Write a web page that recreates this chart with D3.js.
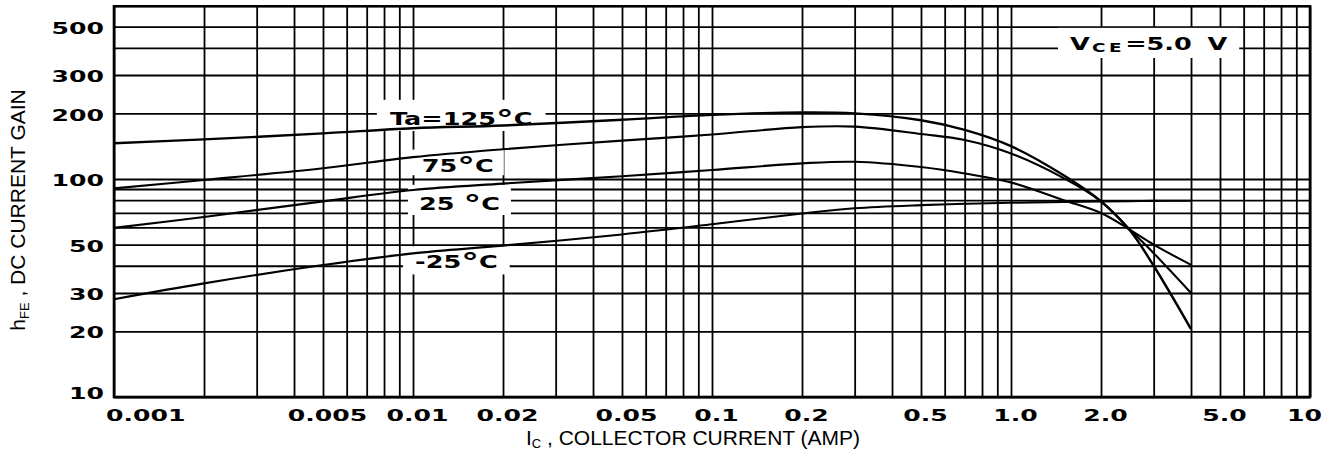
<!DOCTYPE html>
<html>
<head>
<meta charset="utf-8">
<script src="https://cdn.jsdelivr.net/npm/d3@7"></script>
<style>
  body { margin: 0; background: #fff; }
  svg { display: block; }
</style>
</head>
<body>
<svg id="chart" width="1324" height="452"></svg>
<script>
// collector current (A) where the curves were read
var current = [0.001, 0.002, 0.005, 0.01, 0.02, 0.05, 0.1, 0.2, 0.3, 0.5, 0.7, 1.0, 1.5, 2.0, 2.5, 3.0, 4.0];

// hFE, one array per temperature
var gain125 = [146, 152, 162, 171, 176, 187, 197, 202, 200, 186, 168, 141.5, 104, 79, 58, 40, 20.5];
var gain75 = [90.6, 99, 112, 126, 137, 150, 160, 173, 174, 161, 151, 131, 101, 79, 58.5, 45.7, 30];
var gain25 = [59.7, 67, 79, 89, 95.3, 103, 110, 118, 120, 113.5, 106, 96.5, 80, 69.8, 58.5, 50, 40.4];
var gainM25 = [28.1, 33.2, 40.3, 45.6, 49.5, 55.7, 62, 69.5, 73.4, 75.9, 77, 77.8, 78.5, 79, 79.2, 79.4, 79.5];

var curveNames = ['Ta=125°C', '75°C', '25 °C', '-25°C'];
// where each curve name starts (current) and sits (gain at its baseline)
var nameAtCurrent = [0.00837, 0.0107, 0.01047, 0.01016];
var nameAtGain = [177, 108, 72.1, 38.9];

// grid and tick values
var gridX = [0.001, 0.002, 0.003, 0.004, 0.005, 0.006, 0.007, 0.008, 0.009,
             0.01, 0.02, 0.03, 0.04, 0.05, 0.06, 0.07, 0.08, 0.09,
             0.1, 0.2, 0.3, 0.4, 0.5, 0.6, 0.7, 0.8, 0.9,
             1, 2, 3, 4, 5, 6, 7, 8, 9, 10];
var gridY = [10, 20, 30, 40, 50, 60, 70, 80, 90, 100, 200, 300, 400, 500];
var xTickValues = [0.001, 0.005, 0.01, 0.02, 0.05, 0.1, 0.2, 0.5, 1, 2, 5, 10];
var xTickLabels = ['0.001', '0.005', '0.01', '0.02', '0.05', '0.1', '0.2', '0.5', '1.0', '2.0', '5.0', '10'];
var yTickValues = [500, 300, 200, 100, 50, 30, 20, 10];
var yTickLabels = ['500', '300', '200', '100', '50', '30', '20', '10'];

var svg = d3.select('#chart');

var plot = { left: 114, right: 1310, top: 6.3, bottom: 397 };

var x = d3.scaleLog().domain([0.001, 10]).range([plot.left, plot.right]);
var y = d3.scaleLog().domain([10, 620]).range([plot.bottom, plot.top]);

var boldFont = '"DejaVu Sans", sans-serif';
var plainFont = '"Liberation Sans", Arial, sans-serif';
var stretch = 1.62;
var labelStretch = 1.42;

// grid lines through the axis generators
svg.append('g')
    .attr('class', 'grid-x')
    .attr('transform', 'translate(0,' + plot.bottom + ')')
    .call(d3.axisBottom(x).tickValues(gridX).tickSize(-(plot.bottom - plot.top)).tickFormat(''));
svg.append('g')
    .attr('class', 'grid-y')
    .attr('transform', 'translate(' + plot.left + ',0)')
    .call(d3.axisLeft(y).tickValues(gridY).tickSize(-(plot.right - plot.left)).tickFormat(''));
svg.selectAll('.grid-x .domain, .grid-y .domain').remove();
svg.selectAll('.grid-x line, .grid-y line')
    .attr('stroke', '#000')
    .attr('stroke-width', 1.8);

// frame
svg.append('rect')
    .attr('x', plot.left)
    .attr('y', plot.top)
    .attr('width', plot.right - plot.left)
    .attr('height', plot.bottom - plot.top)
    .attr('fill', 'none')
    .attr('stroke', '#000')
    .attr('stroke-width', 2.6);

// label boxes go under the curves, text goes on top
var boxLayer = svg.append('g');
var curveLayer = svg.append('g');
var textLayer = svg.append('g');

// curves
var series = [gain125, gain75, gain25, gainM25];
var line = d3.line()
    .x(function(d) { return x(d[0]); })
    .y(function(d) { return y(d[1]); })
    .curve(d3.curveCatmullRom.alpha(0.5));

curveLayer.selectAll('path')
    .data(series)
    .enter()
    .append('path')
    .attr('d', function(s) { return line(current.map(function(c, i) { return [c, s[i]]; })); })
    .attr('fill', 'none')
    .attr('stroke', '#000')
    .attr('stroke-width', function(s, i) { return i == 0 ? 2.4 : 2.1; });

// stretched bold label with a white box behind it
function boxedLabel(px, py, parts, size, padX, padTop, padBottom) {
    var g = textLayer.append('g')
        .attr('transform', 'translate(' + px + ',' + py + ') scale(' + labelStretch + ',1)');
    var t = g.append('text')
        .attr('font-family', boldFont)
        .attr('font-weight', 'bold')
        .attr('font-size', size);
    parts.forEach(function(p) {
        var ts = t.append('tspan').text(p.text);
        if (p.size) ts.attr('font-size', p.size);
        if (p.dy) ts.attr('dy', p.dy);
        if (p.dx) ts.attr('dx', p.dx);
        if (p.spacing) ts.attr('letter-spacing', p.spacing);
    });
    var b = t.node().getBBox();
    var cap = size * 0.73;
    boxLayer.append('rect')
        .attr('x', px + b.x * labelStretch - padX)
        .attr('y', py - cap - padTop)
        .attr('width', b.width * labelStretch + 2 * padX)
        .attr('height', cap + padTop + padBottom)
        .attr('fill', '#fff');
}

function nameParts(name) {
    var k = name.indexOf('°');
    return [
        { text: name.slice(0, k) },
        { text: '°', size: 25, dy: 3 },
        { text: name.slice(k + 1), dy: -3 }
    ];
}

var namePad = [[13, 12, 6], [10, 9, 3.5], [11, 12, 5], [12, 9, 6]];
curveNames.forEach(function(name, i) {
    boxedLabel(x(nameAtCurrent[i]), y(nameAtGain[i]), nameParts(name), 18,
        namePad[i][0], namePad[i][1], namePad[i][2]);
});

boxedLabel(1070, 50, [
    { text: 'V' },
    { text: 'CE', size: 13, dy: 1.5, dx: 1.5, spacing: 2.5 },
    { text: '=5.0', dy: -1.5 },
    { text: 'V', dx: 11 }
], 18, 12, 9, 8);

// y tick labels
textLayer.selectAll('.ylab')
    .data(yTickValues)
    .enter()
    .append('text')
    .attr('class', 'ylab')
    .attr('transform', function(d) {
        var cy = Math.min(y(d) + 1.5, 393);
        return 'translate(104,' + (cy + 5.6) + ') scale(' + stretch + ',1)';
    })
    .attr('text-anchor', 'end')
    .attr('font-family', boldFont)
    .attr('font-weight', 'bold')
    .attr('font-size', 15.5)
    .text(function(d, i) { return yTickLabels[i]; });

// x tick labels (first and last pulled inside the picture)
textLayer.selectAll('.xlab')
    .data(xTickValues)
    .enter()
    .append('text')
    .attr('class', 'xlab')
    .attr('transform', function(d) {
        var px = x(d) + 4.5;
        if (d == 0.001) px = x(d) - 8;
        if (d == 10) px = x(d) + 12;
        return 'translate(' + px + ',421) scale(' + stretch + ',1)';
    })
    .attr('text-anchor', function(d) {
        return d == 0.001 ? 'start' : (d == 10 ? 'end' : 'middle');
    })
    .attr('font-family', boldFont)
    .attr('font-weight', 'bold')
    .attr('font-size', 15.5)
    .text(function(d, i) { return xTickLabels[i]; });

// axis titles
var xt = svg.append('text')
    .attr('x', 693)
    .attr('y', 445)
    .attr('text-anchor', 'middle')
    .attr('font-family', plainFont)
    .attr('font-size', 21);
xt.append('tspan').text('I');
xt.append('tspan').text('C').attr('font-size', 13).attr('dy', 3);
xt.append('tspan').text(' , COLLECTOR CURRENT (AMP)').attr('dy', -3);

var yt = svg.append('text')
    .attr('transform', 'translate(25,210) rotate(-90)')
    .attr('text-anchor', 'middle')
    .attr('font-family', plainFont)
    .attr('font-size', 21);
yt.append('tspan').text('h');
yt.append('tspan').text('FE').attr('font-size', 13).attr('dy', 4);
yt.append('tspan').text(' , DC CURRENT GAIN').attr('dy', -4);
</script>
</body>
</html>
